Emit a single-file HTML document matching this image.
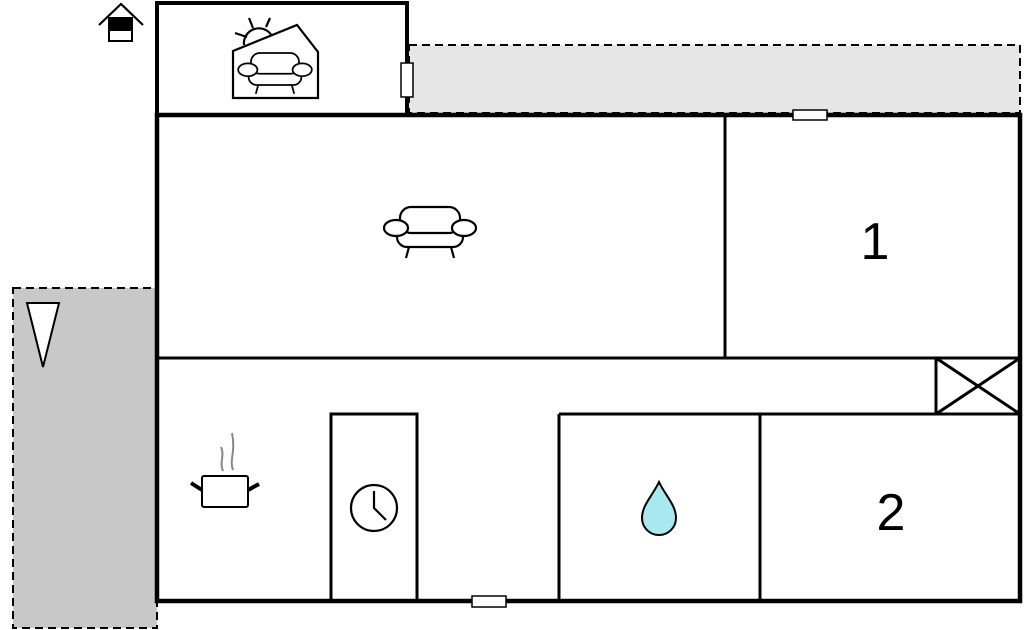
<!DOCTYPE html>
<html><head><style>html,body{margin:0;padding:0;background:#fff;width:1024px;height:630px;overflow:hidden}svg{display:block}</style></head><body>
<svg width="1024" height="630" viewBox="0 0 1024 630" xmlns="http://www.w3.org/2000/svg">
<defs>
<g id="sofa" fill="#fff" stroke="#000" stroke-width="2.2">
<path d="M409,247 L406,258 M451,247 L454,258"/>
<rect x="397" y="226" width="66" height="21" rx="10"/>
<rect x="400" y="207" width="60" height="26" rx="11"/>
<ellipse cx="396" cy="228" rx="12" ry="8"/>
<ellipse cx="464" cy="228" rx="12" ry="8"/>
</g>
</defs>
<rect x="13" y="288" width="144" height="340" fill="#c8c8c8" stroke="#000" stroke-width="2" stroke-dasharray="8,5"/>
<rect x="409" y="45" width="611" height="68" fill="#e6e6e6" stroke="#000" stroke-width="2" stroke-dasharray="8,5"/>
<polygon points="27,303 59,303 43,367" fill="#fff" stroke="#000" stroke-width="2"/>
<rect x="157" y="115" width="863" height="486" fill="#fff"/>
<rect x="157" y="3" width="250" height="112" fill="#fff" stroke="#000" stroke-width="4"/>
<g stroke="#000" stroke-width="3" fill="none">
<line x1="157" y1="358" x2="1020" y2="358"/>
<line x1="725" y1="115" x2="725" y2="358"/>
<rect x="936" y="358" width="84" height="56"/>
<line x1="936" y1="358" x2="1020" y2="414"/><line x1="1020" y1="358" x2="936" y2="414"/>
<line x1="559" y1="414" x2="1020" y2="414"/>
<line x1="559" y1="414" x2="559" y2="601"/>
<line x1="760" y1="414" x2="760" y2="601"/>
<rect x="331" y="414" width="86" height="187"/>
</g>
<rect x="157" y="115" width="863" height="486" fill="none" stroke="#000" stroke-width="4.5"/>
<rect x="401" y="63" width="12" height="34" fill="#fff" stroke="#000" stroke-width="1.5"/>
<rect x="793" y="110" width="34" height="10" fill="#fff" stroke="#000" stroke-width="1.5"/>
<rect x="472" y="596" width="34" height="11" fill="#fff" stroke="#000" stroke-width="1.5"/>
<!-- house icon -->
<path d="M99,25 L121,4 L143,25" fill="none" stroke="#000" stroke-width="2.2"/>
<rect x="108" y="17" width="25" height="13" fill="#000"/>
<rect x="109" y="30" width="23" height="11" fill="#fff" stroke="#000" stroke-width="2"/>
<!-- sunroom icon -->
<g stroke="#000" stroke-width="2.2" fill="none">
<path d="M244,45 A15,15 0 0 1 272,36"/>
<line x1="247" y1="37" x2="235" y2="33"/><line x1="253" y1="28" x2="249" y2="18"/><line x1="266" y1="27" x2="270" y2="18"/>
<polygon points="233,51 297,25 318,52 318,98 233,98" fill="#fff"/>
</g>
<g transform="translate(275,73) scale(0.8) translate(-430,-232)"><use href="#sofa"/></g>
<use href="#sofa"/>
<!-- pot -->
<g stroke="#888" stroke-width="2" fill="none">
<path d="M223,471 C219,462 225,456 221,447 M233,470 C229,460 236,452 232,433"/>
</g>
<rect x="202" y="476" width="46" height="31" rx="2" fill="#fff" stroke="#000" stroke-width="2"/>
<path d="M191,483 L202,490 M259,484 L248,490" stroke="#000" stroke-width="4"/>
<!-- clock -->
<circle cx="374" cy="508" r="23" fill="#fff" stroke="#000" stroke-width="2.2"/>
<path d="M374,491 L374,508 L386,520" fill="none" stroke="#000" stroke-width="2.2"/>
<!-- drop -->
<path d="M659,482 C653,495 642,505 642,518 A17,17 0 0 0 676,518 C676,505 665,495 659,482 Z" fill="#a8e8f0" stroke="#000" stroke-width="2"/>
<text x="875" y="259" font-family="Liberation Sans, sans-serif" font-size="52" text-anchor="middle">1</text>
<text x="891" y="530" font-family="Liberation Sans, sans-serif" font-size="52" text-anchor="middle">2</text>
</svg>
</body></html>
